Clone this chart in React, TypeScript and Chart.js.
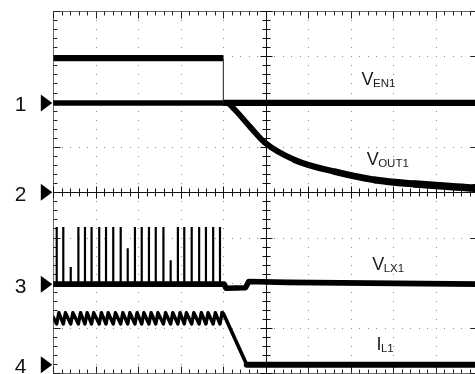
import React, { useEffect, useRef } from 'react';
import { Chart, registerables } from 'chart.js';

Chart.register(...registerables);

// ---- screen grid (in divisions) ----
const X_DIVS = 10;
const Y_DIVS = 8;
const MINOR_PER_DIV = 5;

// ---- channels ----
const CHANNEL_NAMES = ['1', '2', '3', '4'];
const CHANNEL_ZERO = [5.97, 4.0, 1.97, 0.19]; // zero level of each channel, divisions from bottom

// ---- trace labels ----
const LABEL_MAIN = ['V', 'V', 'V', 'I'];
const LABEL_SUB = ['EN1', 'OUT1', 'LX1', 'L1'];
const LABEL_T = [7.25, 7.37, 7.5, 7.6];
const LABEL_DIV = [6.37, 4.6, 2.28, 0.52];

// ---- CH1: V_EN1 (time div, value div) ----
const VEN1_T = [0, 4.0, 4.0, 10];
const VEN1_V = [0.99, 0.99, 0, 0];

// ---- CH2: V_OUT1 ----
const VOUT1_T = [0, 4.08, 4.23, 4.63, 4.98, 5.68, 6.63, 7.57, 8.51, 9.92, 10];
const VOUT1_V = [1.97, 1.97, 1.86, 1.44, 1.09, 0.71, 0.45, 0.27, 0.18, 0.09, 0.085];

// ---- CH3: V_LX1 baseline and switching spikes ----
const VLX1_T = [0, 4.02, 4.06, 4.52, 4.6, 5.5, 10];
const VLX1_V = [0, 0, -0.09, -0.08, 0.06, 0.04, 0];
const LX_SPIKE_T = [0.08, 0.235, 0.41, 0.59, 0.745, 0.9, 1.08, 1.24, 1.41, 1.585, 1.75, 1.92, 2.08, 2.25, 2.41, 2.59, 2.76, 2.93, 3.08, 3.255, 3.43, 3.59, 3.76, 3.92];
const LX_SPIKE_V = [1.26, 1.26, 0.38, 1.26, 1.26, 1.26, 1.26, 1.26, 1.26, 1.26, 0.79, 1.26, 1.26, 1.26, 1.26, 1.26, 0.53, 1.26, 1.26, 1.26, 1.26, 1.26, 1.26, 1.26];

// ---- CH4: I_L1 ----
const IL1_T = [0, 0.08, 0.13, 0.235, 0.285, 0.41, 0.46, 0.59, 0.64, 0.745, 0.795, 0.9, 0.95, 1.08, 1.13, 1.24, 1.29, 1.41, 1.46, 1.585, 1.635, 1.75, 1.8, 1.92, 1.97, 2.08, 2.13, 2.25, 2.3, 2.41, 2.46, 2.59, 2.64, 2.76, 2.81, 2.93, 2.98, 3.08, 3.13, 3.255, 3.305, 3.43, 3.48, 3.59, 3.64, 3.76, 3.81, 3.92, 3.97, 4.0, 4.55, 10];
const IL1_V = [1.05, 0.9, 1.15, 0.9, 1.15, 0.9, 1.15, 0.9, 1.15, 0.9, 1.15, 0.9, 1.15, 0.9, 1.15, 0.9, 1.15, 0.9, 1.15, 0.9, 1.15, 0.9, 1.15, 0.9, 1.15, 0.9, 1.15, 0.9, 1.15, 0.9, 1.15, 0.9, 1.15, 0.9, 1.15, 0.9, 1.15, 0.9, 1.15, 0.9, 1.15, 0.9, 1.15, 0.9, 1.15, 0.9, 1.15, 0.9, 1.15, 1.13, 0, 0];

const TRACE = '#000000';
const GRID_DOT = '#8a8a7c';
const FONT = '"Liberation Sans", Arial, Helvetica, sans-serif';

function pts(ts: number[], vs: number[], ch: number) {
  return ts.map((t, i) => ({ x: t, y: CHANNEL_ZERO[ch] + vs[i] }));
}

function spikePts() {
  const out: { x: number; y: number | null }[] = [];
  LX_SPIKE_T.forEach((t, i) => {
    out.push({ x: t, y: CHANNEL_ZERO[2] });
    out.push({ x: t, y: CHANNEL_ZERO[2] + LX_SPIKE_V[i] });
    out.push({ x: t, y: null });
  });
  return out;
}

const scopePlugin = {
  id: 'scope',
  beforeDatasetsDraw(chart: any) {
    const { ctx, chartArea } = chart;
    const { left, top, right, bottom } = chartArea;
    const xs = chart.scales.x;
    const ys = chart.scales.y;
    const px = (t: number) => xs.getPixelForValue(t);
    const py = (v: number) => ys.getPixelForValue(v);
    const snap = (p: number) => Math.round(p) + 0.5;
    ctx.save();

    // dotted grid
    ctx.fillStyle = GRID_DOT;
    for (let i = 1; i < X_DIVS; i++) {
      if (i === X_DIVS / 2) continue;
      const gx = Math.round(px(i));
      for (let k = 1; k < Y_DIVS * MINOR_PER_DIV; k++) {
        ctx.fillRect(gx, Math.round(py(k / MINOR_PER_DIV)), 1, 1);
      }
    }
    for (let j = 1; j < Y_DIVS; j++) {
      if (j === Y_DIVS / 2) continue;
      const gy = Math.round(py(j));
      for (let k = 1; k < X_DIVS * MINOR_PER_DIV; k++) {
        ctx.fillRect(Math.round(px(k / MINOR_PER_DIV)), gy, 1, 1);
      }
    }

    const line = (x1: number, y1: number, x2: number, y2: number) => {
      ctx.beginPath();
      ctx.moveTo(x1, y1);
      ctx.lineTo(x2, y2);
      ctx.stroke();
    };

    // borders
    ctx.lineWidth = 1;
    ctx.strokeStyle = '#6a6a6a';
    const L = snap(left), T = snap(top), R = snap(right), B = snap(bottom);
    line(L, T, R, T);
    line(L, T, L, B);
    line(R, T, R, B);
    line(L, B, R, B);

    // border ticks
    ctx.strokeStyle = '#222';
    for (let k = 0; k <= X_DIVS * MINOR_PER_DIV; k++) {
      const tx = snap(px(k / MINOR_PER_DIV));
      const len = k % MINOR_PER_DIV === 0 ? 7 : 4;
      line(tx, T, tx, T + len);
      line(tx, B, tx, B - len);
    }
    for (let k = 0; k <= Y_DIVS * MINOR_PER_DIV; k++) {
      const ty = snap(py(k / MINOR_PER_DIV));
      const len = k % MINOR_PER_DIV === 0 ? 7 : 4;
      line(L, ty, L + len, ty);
      line(R, ty, R - (k % MINOR_PER_DIV === 0 ? 9 : 4), ty);
    }

    // center axes
    ctx.strokeStyle = '#111';
    const cx = snap(px(X_DIVS / 2));
    const cy = snap(py(Y_DIVS / 2));
    line(L, cy, R, cy);
    line(cx, T, cx, B);
    for (let k = 0; k <= X_DIVS * MINOR_PER_DIV; k++) {
      const tx = snap(px(k / MINOR_PER_DIV));
      const len = k % MINOR_PER_DIV === 0 ? 6 : 4;
      line(tx, cy - len, tx, cy + len);
    }
    for (let k = 0; k <= Y_DIVS * MINOR_PER_DIV; k++) {
      const ty = snap(py(k / MINOR_PER_DIV));
      const len = k % MINOR_PER_DIV === 0 ? 6 : 4;
      line(cx - len, ty, cx + len, ty);
    }
    ctx.restore();
  },
  afterDraw(chart: any) {
    const { ctx } = chart;
    const xs = chart.scales.x;
    const ys = chart.scales.y;
    const left = chart.chartArea.left;
    ctx.save();
    // channel markers and numbers
    CHANNEL_NAMES.forEach((name, i) => {
      const my = ys.getPixelForValue(CHANNEL_ZERO[i]);
      ctx.fillStyle = '#000';
      ctx.beginPath();
      ctx.moveTo(left - 12.5, my - 8.5);
      ctx.lineTo(left - 1, my);
      ctx.lineTo(left - 12.5, my + 8.5);
      ctx.closePath();
      ctx.fill();
      ctx.fillStyle = '#111';
      ctx.font = `21px ${FONT}`;
      ctx.textAlign = 'center';
      ctx.textBaseline = 'alphabetic';
      ctx.fillText(name, 20.5, my + 8.4);
    });
    // trace labels
    LABEL_MAIN.forEach((main, i) => {
      const lx = xs.getPixelForValue(LABEL_T[i]);
      const ly = ys.getPixelForValue(LABEL_DIV[i]);
      ctx.fillStyle = '#1a1a1a';
      ctx.textAlign = 'left';
      ctx.textBaseline = 'alphabetic';
      ctx.font = `18px ${FONT}`;
      ctx.fillText(main, lx, ly);
      const w = ctx.measureText(main).width;
      ctx.font = `11.5px ${FONT}`;
      ctx.fillText(LABEL_SUB[i], lx + w - 0.5, ly + 1.8);
    });
    ctx.restore();
  },
};

export default function App() {
  const ref = useRef<HTMLCanvasElement>(null);
  useEffect(() => {
    const canvas = ref.current;
    if (!canvas) return;
    const base = {
      borderColor: TRACE,
      pointRadius: 0,
      fill: false,
      tension: 0,
      borderCapStyle: 'round' as const,
      borderJoinStyle: 'round' as const,
    };
    const chart = new Chart(canvas, {
      type: 'line',
      data: {
        datasets: [
          {
            ...base,
            label: 'VEN1',
            data: pts(VEN1_T, VEN1_V, 0),
            borderWidth: 6.3,
            borderCapStyle: 'butt',
            borderJoinStyle: 'miter',
            segment: {
              borderWidth: (c: any) => (c.p0.parsed.x === c.p1.parsed.x ? 1.2 : 6.3),
              borderColor: (c: any) => (c.p0.parsed.x === c.p1.parsed.x ? '#444' : TRACE),
            },
          },
          {
            ...base,
            label: 'VOUT1',
            data: pts(VOUT1_T, VOUT1_V, 1),
            cubicInterpolationMode: 'monotone',
            borderWidth: 5.5,
            segment: {
              borderWidth: (c: any) => 5.5 + Math.max(0, c.p0.parsed.x - 4) * 0.45,
            },
          },
          {
            ...base,
            label: 'VLX1',
            data: pts(VLX1_T, VLX1_V, 2),
            borderWidth: 5.6,
          },
          {
            ...base,
            label: 'VLX1 spikes',
            data: spikePts(),
            borderWidth: 2.2,
            borderCapStyle: 'butt',
            spanGaps: false,
          },
          {
            ...base,
            label: 'IL1',
            data: pts(IL1_T, IL1_V, 3),
            borderWidth: 3.4,
            segment: {
              borderWidth: (c: any) => (c.p0.parsed.x >= 4.5 ? 6 : c.p0.parsed.x >= 3.97 ? 3.6 : 3.4),
            },
          },
        ] as any,
      },
      options: {
        animation: false,
        responsive: false,
        devicePixelRatio: 1,
        events: [],
        layout: { padding: { left: 53.3, top: 11, right: 11.5, bottom: 0.6 } },
        scales: {
          x: { type: 'linear', min: 0, max: X_DIVS, display: false },
          y: { type: 'linear', min: 0, max: Y_DIVS, display: false },
        },
        plugins: { legend: { display: false }, tooltip: { enabled: false } },
      },
      plugins: [scopePlugin],
    });
    return () => chart.destroy();
  }, []);
  return (
    <div style={{ position: 'fixed', left: 0, top: 0, width: 475, height: 374, overflow: 'hidden', background: '#fff' }}>
      <canvas ref={ref} width={490} height={374} style={{ display: 'block', width: 490, height: 374 }} />
    </div>
  );
}
